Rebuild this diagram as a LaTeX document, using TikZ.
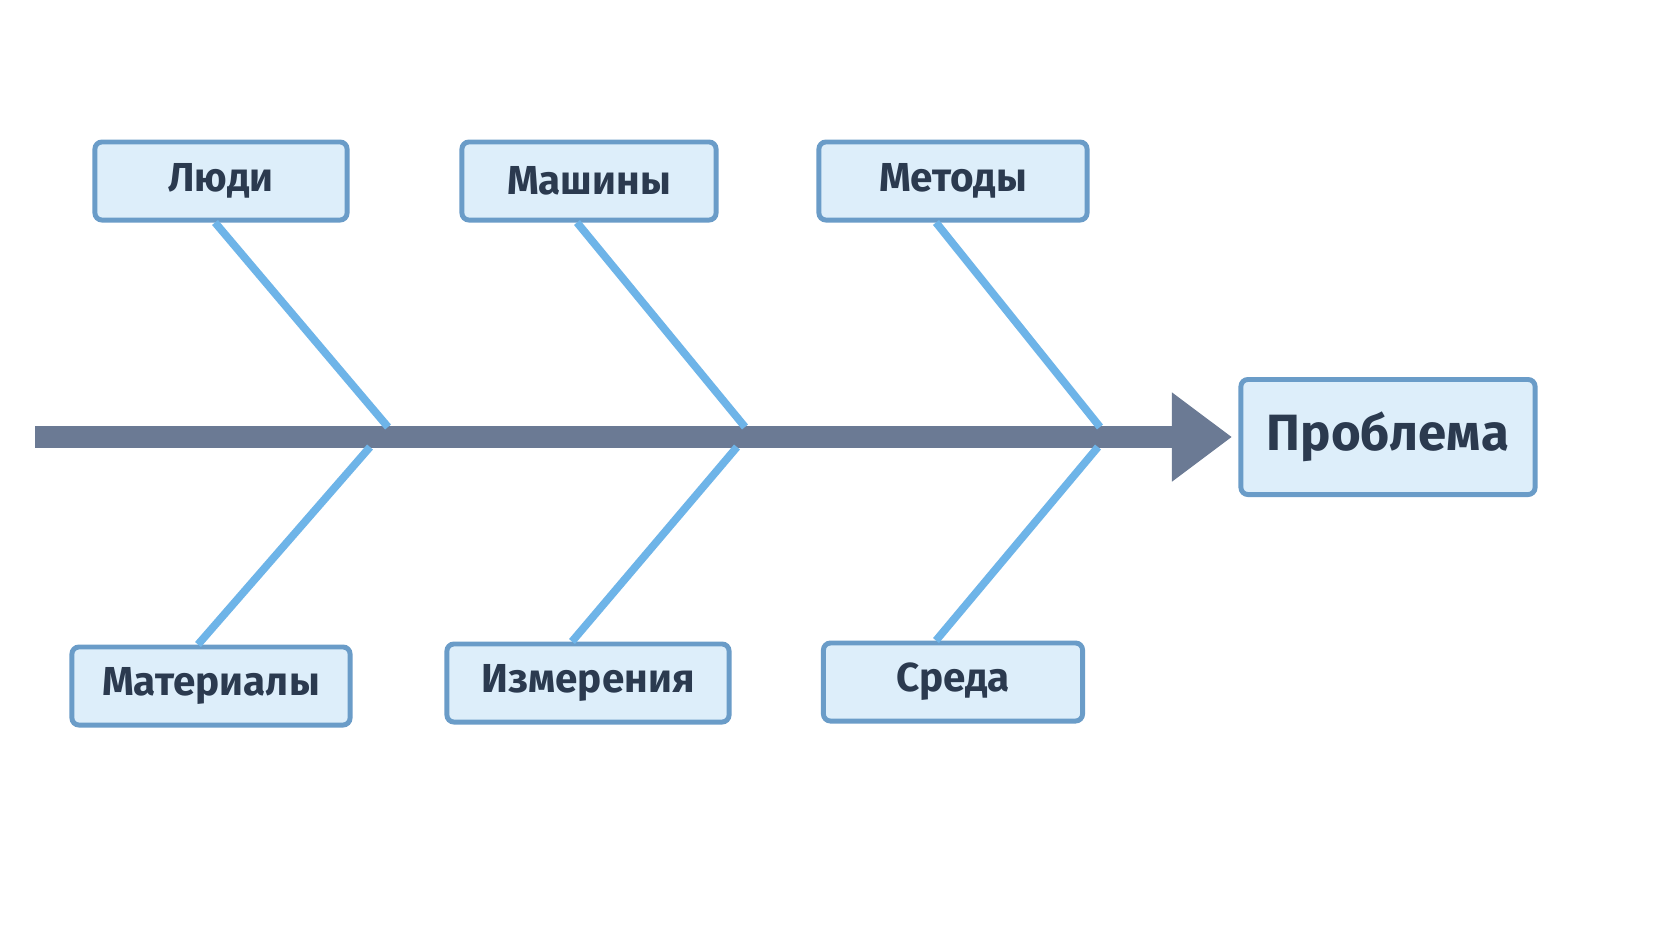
\documentclass[tikz,border=0pt]{standalone}
\usepackage{fontspec}
\setmainfont{Fira Sans}
\usetikzlibrary{arrows.meta, positioning}
\definecolor{boxfill}{HTML}{DDEEFA}
\definecolor{boxline}{HTML}{6A9CC8}
\definecolor{bone}{HTML}{6EB4E8}
\definecolor{spine}{HTML}{6B7A94}
\definecolor{txt}{HTML}{2B3A4F}
\begin{document}
\begin{tikzpicture}[x=0.01cm, y=-0.01cm,
  cause/.style={draw=boxline, line width=1.4pt, fill=boxfill, rounded corners=2pt,
    minimum height=0.78cm, text=txt, font=\bfseries\fontsize{11.5}{14}\selectfont},
  bone/.style={draw=bone, line width=2.2pt}]
\useasboundingbox[fill=white] (0,0) rectangle (1672,941);
% spine
\coordinate (tail) at (35,437);
\coordinate (head) at (1232,437);
\draw[spine, line width=6pt, -{Triangle[length=0.6cm, width=0.85cm]}] (tail) -- (head);
% effect
\node[cause, minimum width=2.94cm, minimum height=1.15cm, font=\bfseries\fontsize{14.5}{17}\selectfont]
  (problem) at (1388,437) {Проблема};
% causes
\node[cause, minimum width=2.52cm] (people) at (221,181) {Люди};
\node[cause, minimum width=2.54cm] (machines) at (589,181) {Машины};
\node[cause, minimum width=2.68cm] (methods) at (953,181) {Методы};
\node[cause, minimum width=2.78cm] (materials) at (211,686) {Материалы};
\node[cause, minimum width=2.82cm] (measure) at (588,683) {Измерения};
\node[cause, minimum width=2.59cm] (env) at (953,682) {Среда};
% joints on spine
\coordinate (j1) at (388,427); \coordinate (k1) at (370,447);
\coordinate (j2) at (745,427); \coordinate (k2) at (737,447);
\coordinate (j3) at (1100,427); \coordinate (k3) at (1098,447);
% bones
\draw[bone] ([xshift=-0.06cm]people.south) -- (j1);
\draw[bone] ([xshift=-0.12cm]machines.south) -- (j2);
\draw[bone] ([xshift=-0.17cm]methods.south) -- (j3);
\draw[bone] ([xshift=-0.13cm]materials.north) -- (k1);
\draw[bone] ([xshift=-0.16cm]measure.north) -- (k2);
\draw[bone] ([xshift=-0.17cm]env.north) -- (k3);
\end{tikzpicture}
\end{document}
